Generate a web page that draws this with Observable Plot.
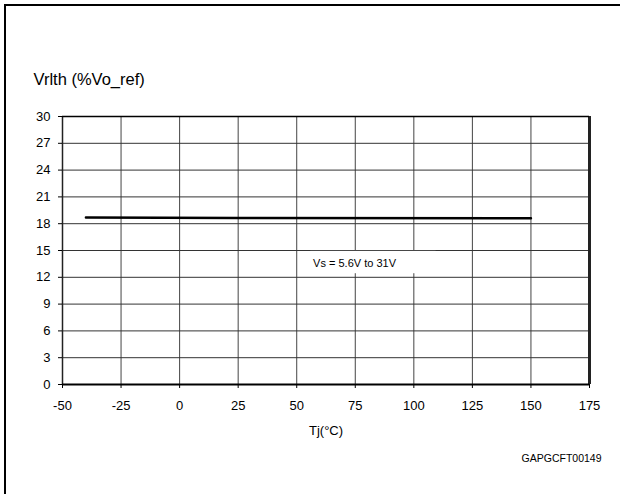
<!DOCTYPE html>
<html>
<head>
<meta charset="utf-8">
<script src="https://cdn.jsdelivr.net/npm/d3@7"></script>
<script src="https://cdn.jsdelivr.net/npm/@observablehq/plot@0.6"></script>
<style>
  html, body { margin: 0; padding: 0; background: #fff; }
  #wrap { position: relative; width: 620px; height: 494px; overflow: hidden; }
  #border { position: absolute; left: 4px; top: 4px; width: 700px; height: 600px;
            border-top: 2px solid #000; border-left: 2px solid #000; pointer-events: none; }
</style>
</head>
<body>
<div id="wrap"><div id="border"></div></div>
<script>
// Data
const tempC = [-40, 25, 150];
const vrlth = [18.7, 18.65, 18.6];
const xTicks = [-50, -25, 0, 25, 50, 75, 100, 125, 150, 175];
const yTicks = [0, 3, 6, 9, 12, 15, 18, 21, 24, 27, 30];
const seriesLabel = "Vs = 5.6V to 31V";
const labelBox = [{x1: 56, x2: 109.5, y1: 12.4, y2: 14.9}];
const labelPos = [{x: 57, y: 13.6}];
const yTitle = "Vrlth (%Vo_ref)";
const xTitle = "Tj(°C)";
const codeText = "GAPGCFT00149";

const rows = tempC.map((t, i) => ({t, v: vrlth[i]}));
const font = "'Liberation Sans', Arial, sans-serif";

const chart = Plot.plot({
  width: 620,
  height: 494,
  marginLeft: 62,
  marginRight: 31,
  marginTop: 116,
  marginBottom: 110,
  style: {fontFamily: font, fontSize: "13px", background: "transparent", color: "#000"},
  x: {domain: [-50, 175], ticks: xTicks},
  y: {domain: [0, 30], ticks: yTicks},
  marks: [
    Plot.gridX(xTicks.slice(1, -1), {stroke: "#444", strokeOpacity: 1, strokeWidth: 1}),
    Plot.gridY(yTicks.slice(1, -1), {stroke: "#333", strokeOpacity: 1, strokeWidth: 1}),
    Plot.rect(labelBox, {x1: "x1", x2: "x2", y1: "y1", y2: "y2", fill: "#fff"}),
    Plot.text(labelPos, {x: "x", y: "y", text: () => seriesLabel, textAnchor: "start",
      fontSize: 11, fill: "#000"}),
    Plot.ruleX([-50], {stroke: "#222", strokeWidth: 1.5}),
    Plot.ruleX([175], {stroke: "#222", strokeWidth: 3}),
    Plot.ruleY([30], {stroke: "#000", strokeWidth: 1.5}),
    Plot.ruleY([0], {stroke: "#000", strokeWidth: 2}),
    Plot.axisX(xTicks, {tickSize: 4, tickPadding: 12, label: null, fontSize: 13, stroke: "#000",
      tickFormat: d => String(d)}),
    Plot.axisY(yTicks, {tickSize: 4, tickPadding: 8, label: null, fontSize: 13, stroke: "#000",
      tickFormat: d => String(d)}),
    Plot.line(rows, {x: "t", y: "v", stroke: "#000", strokeWidth: 2.5}),
    Plot.text([yTitle], {frameAnchor: "top-left", textAnchor: "start", dx: -29, dy: -43,
      fontSize: 16.5, fill: "#000"}),
    Plot.text([xTitle], {frameAnchor: "bottom", dy: 50, fontSize: 13, fill: "#000"}),
    Plot.text([codeText], {frameAnchor: "bottom-right", textAnchor: "end", dx: 12, dy: 77,
      fontSize: 10.5, fill: "#000"})
  ]
});
chart.style.position = "absolute";
chart.style.left = "0px";
chart.style.top = "0px";
document.getElementById("wrap").prepend(chart);
</script>
</body>
</html>
